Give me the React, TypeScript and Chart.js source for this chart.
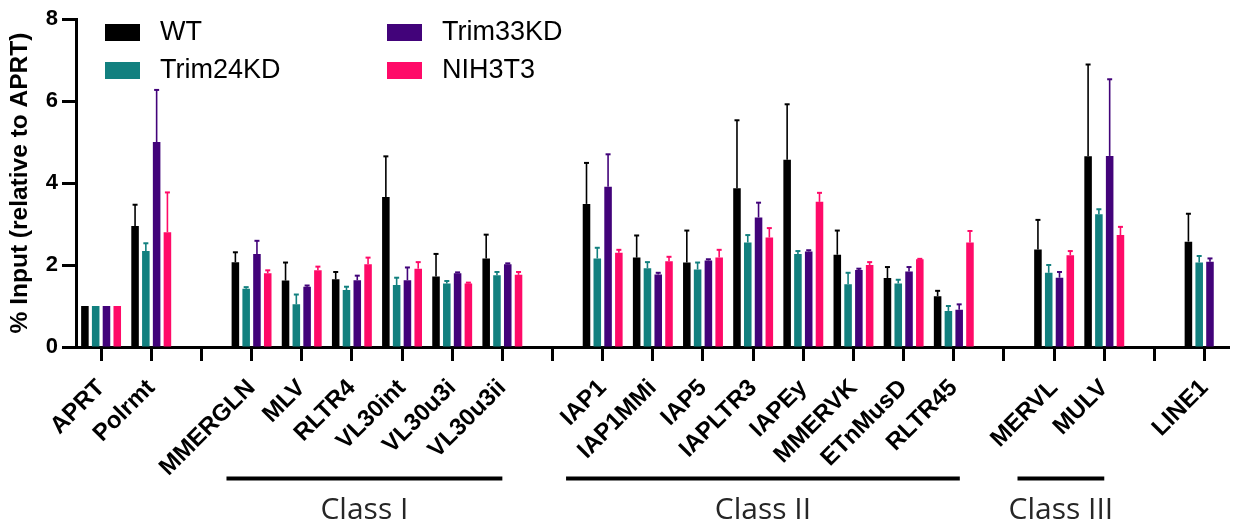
import React, { useEffect, useRef } from "react";
import { Chart, registerables } from "chart.js";

Chart.register(...registerables);

const categories = [
  "APRT", "Polrmt", "",
  "MMERGLN", "MLV", "RLTR4", "VL30int", "VL30u3i", "VL30u3ii", "",
  "IAP1", "IAP1MMi", "IAP5", "IAPLTR3", "IAPEy", "MMERVK", "ETnMusD", "RLTR45", "",
  "MERVL", "MULV", "",
  "LINE1",
];

const seriesNames = ["WT", "Trim24KD", "Trim33KD", "NIH3T3"];
const seriesColors = ["#000000", "#12807f", "#42037a", "#ff0a68"];

const wtMean = [1, 2.95, null, 2.07, 1.62, 1.65, 3.66, 1.72, 2.16, null, 3.49, 2.18, 2.06, 3.87, 4.57, 2.25, 1.68, 1.24, null, 2.38, 4.65, null, 2.57];
const wtErr = [0, 0.52, null, 0.24, 0.44, 0.18, 0.99, 0.55, 0.58, null, 1.0, 0.54, 0.78, 1.66, 1.35, 0.59, 0.27, 0.13, null, 0.72, 2.24, null, 0.68];

const trim24Mean = [1, 2.34, null, 1.42, 1.04, 1.39, 1.51, 1.55, 1.75, null, 2.16, 1.92, 1.89, 2.55, 2.27, 1.53, 1.55, 0.88, null, 1.81, 3.24, null, 2.06];
const trim24Err = [0, 0.19, null, 0.04, 0.24, 0.08, 0.18, 0.06, 0.08, null, 0.26, 0.15, 0.17, 0.18, 0.07, 0.28, 0.09, 0.12, null, 0.19, 0.12, null, 0.16];

const trim33Mean = [1, 5.0, null, 2.27, 1.47, 1.63, 1.63, 1.8, 2.02, null, 3.91, 1.77, 2.11, 3.16, 2.33, 1.88, 1.84, 0.91, null, 1.69, 4.66, null, 2.08];
const trim33Err = [0, 1.27, null, 0.32, 0.03, 0.11, 0.31, 0.02, 0.02, null, 0.79, 0.04, 0.03, 0.36, 0.03, 0.03, 0.11, 0.13, null, 0.14, 1.87, null, 0.08];

const nihMean = [1, 2.8, null, 1.8, 1.87, 2.02, 1.91, 1.55, 1.76, null, 2.3, 2.09, 2.18, 2.67, 3.54, 2.0, 2.14, 2.55, null, 2.24, 2.73, null, null];
const nihErr = [0, 0.97, null, 0.07, 0.09, 0.16, 0.16, 0.02, 0.07, null, 0.07, 0.11, 0.19, 0.23, 0.22, 0.07, 0.01, 0.28, null, 0.1, 0.2, null, null];

const yTicks = [0, 2, 4, 6, 8];
const yTitle = "% Input (relative to APRT)";

const classNames = ["Class I", "Class II", "Class III"];
// span of each class bracket, in category-index units
const classFrom = [2.5, 9.27, 18.27];
const classTo = [8.0, 17.12, 20.0];

const means = [wtMean, trim24Mean, trim33Mean, nihMean];
const errs = [wtErr, trim24Err, trim33Err, nihErr];

const errorBarPlugin = {
  id: "errorBars",
  afterDatasetsDraw(chart: any) {
    const { ctx } = chart;
    const yScale = chart.scales.y;
    chart.data.datasets.forEach((ds: any, di: number) => {
      const meta = chart.getDatasetMeta(di);
      meta.data.forEach((bar: any, i: number) => {
        const v = ds.data[i];
        const e = ds.errors[i];
        if (v == null || !e) return;
        const x = bar.x;
        const y0 = yScale.getPixelForValue(v);
        const y1 = yScale.getPixelForValue(v + e);
        ctx.save();
        ctx.strokeStyle = ds.backgroundColor;
        ctx.lineWidth = 1.6;
        ctx.beginPath();
        ctx.moveTo(x, y0);
        ctx.lineTo(x, y1);
        ctx.stroke();
        ctx.lineWidth = 2;
        ctx.beginPath();
        ctx.moveTo(x - 2.5, y1);
        ctx.lineTo(x + 2.5, y1);
        ctx.stroke();
        ctx.restore();
      });
    });
  },
};

const legendPlugin = {
  id: "customLegend",
  afterDraw(chart: any) {
    const { ctx } = chart;
    const colX = [105, 387];
    const rowY = [24, 62];
    ctx.save();
    ctx.font = '27px "Liberation Sans", Arial, sans-serif';
    ctx.textBaseline = "middle";
    ctx.textAlign = "left";
    chart.data.datasets.forEach((ds: any, i: number) => {
      const col = Math.floor(i / 2);
      const row = i % 2;
      const x = colX[col];
      const y = rowY[row];
      ctx.fillStyle = ds.backgroundColor;
      ctx.fillRect(x, y, 35, 17);
      ctx.fillStyle = "#000";
      ctx.fillText(ds.label, x + 55, y + 9);
    });
    ctx.restore();
  },
};

const classPlugin = {
  id: "classBrackets",
  afterDraw(chart: any) {
    const { ctx } = chart;
    const xScale = chart.scales.x;
    ctx.save();
    classNames.forEach((name, i) => {
      const x0 = xScale.getPixelForValue(classFrom[i]);
      const x1 = xScale.getPixelForValue(classTo[i]);
      ctx.strokeStyle = "#000";
      ctx.lineWidth = 4;
      ctx.beginPath();
      ctx.moveTo(x0, 478.5);
      ctx.lineTo(x1, 478.5);
      ctx.stroke();
      ctx.fillStyle = "#262626";
      ctx.font = '30px "Open Sans", "Noto Sans", sans-serif';
      ctx.textAlign = "center";
      ctx.textBaseline = "alphabetic";
      ctx.fillText(name, (x0 + x1) / 2, 519);
    });
    ctx.restore();
  },
};

export default function App() {
  const canvasRef = useRef<HTMLCanvasElement | null>(null);

  useEffect(() => {
    if (!canvasRef.current) return;
    const chart = new Chart(canvasRef.current, {
      type: "bar",
      data: {
        labels: categories,
        datasets: seriesNames.map((name, i) => ({
          label: name,
          data: means[i],
          errors: errs[i],
          backgroundColor: seriesColors[i],
          borderWidth: 0,
          categoryPercentage: 0.86,
          barPercentage: 0.7,
        })) as any,
      },
      options: {
        responsive: false,
        animation: false,
        devicePixelRatio: 1,
        layout: { padding: { left: 0, right: 2, top: 19, bottom: 0 } },
        plugins: {
          legend: { display: false },
          tooltip: { enabled: false },
        },
        scales: {
          x: {
            type: "category",
            offset: true,
            afterFit(scale: any) {
              scale.height = 179;
            },
            grid: {
              display: true,
              drawOnChartArea: false,
              drawTicks: true,
              tickLength: 14,
              tickWidth: 3,
              tickColor: "#000",
              offset: false,
            },
            border: { display: true, width: 3, color: "#000" },
            ticks: {
              autoSkip: false,
              maxRotation: 45,
              minRotation: 45,
              padding: 13,
              color: "#000",
              font: { family: '"Liberation Sans", Arial, sans-serif', size: 24, weight: "bold" },
            },
          },
          y: {
            min: 0,
            max: 8,
            afterFit(scale: any) {
              scale.width = 76;
            },
            afterBuildTicks(scale: any) {
              scale.ticks = yTicks.map((v) => ({ value: v }));
            },
            grid: {
              display: true,
              drawOnChartArea: false,
              drawTicks: true,
              tickLength: 14,
              tickWidth: 3,
              tickColor: "#000",
            },
            border: { display: true, width: 3, color: "#000" },
            ticks: {
              padding: 4,
              color: "#000",
              font: { family: '"Liberation Sans", Arial, sans-serif', size: 22, weight: "bold" },
            },
            title: {
              display: true,
              text: yTitle,
              color: "#000",
              padding: { top: 6, bottom: 0 },
              font: { family: '"Liberation Sans", Arial, sans-serif', size: 24.5, weight: "bold" },
            },
          },
        },
      },
      plugins: [errorBarPlugin, legendPlugin, classPlugin],
    });
    return () => chart.destroy();
  }, []);

  return (
    <div style={{ position: "fixed", left: 0, top: 0, width: 1238, height: 526, background: "#fff" }}>
      <canvas ref={canvasRef} width={1238} height={526} />
    </div>
  );
}
